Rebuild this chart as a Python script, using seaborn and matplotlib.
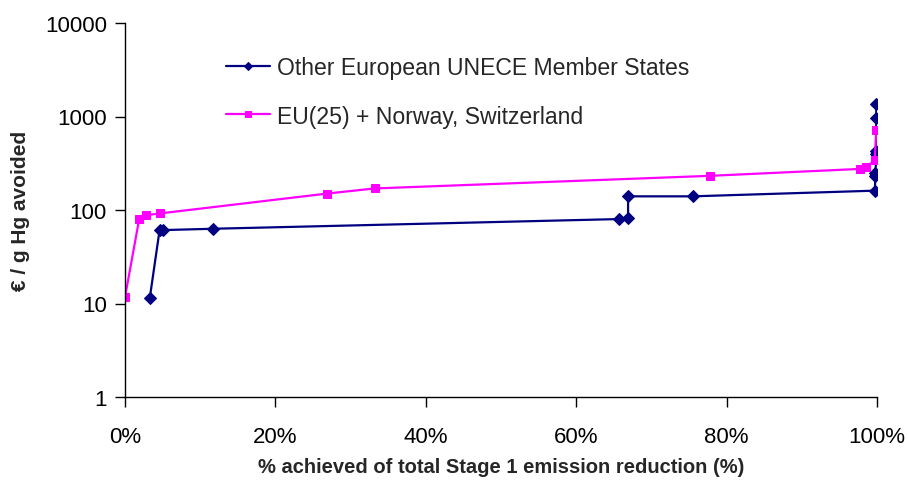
import matplotlib
matplotlib.use("Agg")
import matplotlib.pyplot as plt
import matplotlib.ticker as mticker
import seaborn as sns
import pandas as pd

# Cumulative share of the Stage 1 reduction (%) and marginal cost (EUR / g Hg)
other_x = [3.3, 4.6, 5.1, 11.7, 65.7, 66.9, 66.9, 75.5, 99.7, 99.8, 99.8, 99.9, 99.9, 99.9, 99.9]
other_y = [11.5, 61, 61, 63, 80, 82, 140, 140, 161, 230, 250, 400, 430, 960, 1360]

eu_x = [0.0, 1.9, 2.8, 4.7, 26.9, 33.2, 77.8, 97.7, 98.6, 99.7, 99.9]
eu_y = [11.7, 81, 88, 92, 150, 170, 232, 275, 290, 340, 720]

series_names = ["Other European UNECE Member States", "EU(25) + Norway, Switzerland"]
x_ticks = [0, 20, 40, 60, 80, 100]
y_ticks = [1, 10, 100, 1000, 10000]

sns.set_style("ticks")
plt.rcParams["font.family"] = ["Liberation Sans", "DejaVu Sans"]

fig = plt.figure(figsize=(9.08, 4.81), dpi=100)
ax = fig.add_axes([125 / 908, 1 - 398 / 481, (877 - 125) / 908, (398 - 24) / 481])

other = pd.DataFrame({"x": other_x, "y": other_y})
eu = pd.DataFrame({"x": eu_x, "y": eu_y})

sns.lineplot(data=other, x="x", y="y", sort=False, estimator=None, ax=ax,
             color="#000080", lw=1.6, marker="D", markersize=6,
             markeredgecolor="#000080", label=series_names[0])
sns.lineplot(data=eu, x="x", y="y", sort=False, estimator=None, ax=ax,
             color="#FF00FF", lw=1.6, marker="s", markersize=6,
             markeredgecolor="#FF00FF", label=series_names[1])

ax.set_yscale("log")
ax.set_ylim(1, 10000)
ax.set_xlim(0, 100)
ax.set_yticks(y_ticks)
ax.yaxis.set_major_formatter(mticker.FuncFormatter(lambda v, p: f"{v:g}"))
ax.yaxis.set_minor_locator(mticker.NullLocator())
ax.set_xticks(x_ticks)
ax.set_xticklabels([f"{t}%" for t in x_ticks])

ax.tick_params(axis="both", which="major", direction="out", length=7, width=1,
               color="black", labelsize=16, labelcolor="black")
ax.tick_params(axis="x", pad=14)
ax.tick_params(axis="y", pad=6)

for side in ("top", "right"):
    ax.spines[side].set_visible(False)
for side in ("left", "bottom"):
    ax.spines[side].set_color("black")
    ax.spines[side].set_linewidth(1)

ax.set_ylabel("€ / g Hg avoided", fontsize=15, fontweight="bold", labelpad=11)
ax.set_xlabel("% achieved of total Stage 1 emission reduction (%)", fontsize=14.5,
              fontweight="bold", labelpad=7)

leg = ax.legend(loc="upper left", bbox_to_anchor=(0.107, 0.968), frameon=False,
                fontsize=16.6, handlelength=1.9, handletextpad=0.3, labelspacing=1.12,
                markerscale=0.75)

fig.savefig("out.png", dpi=100)
